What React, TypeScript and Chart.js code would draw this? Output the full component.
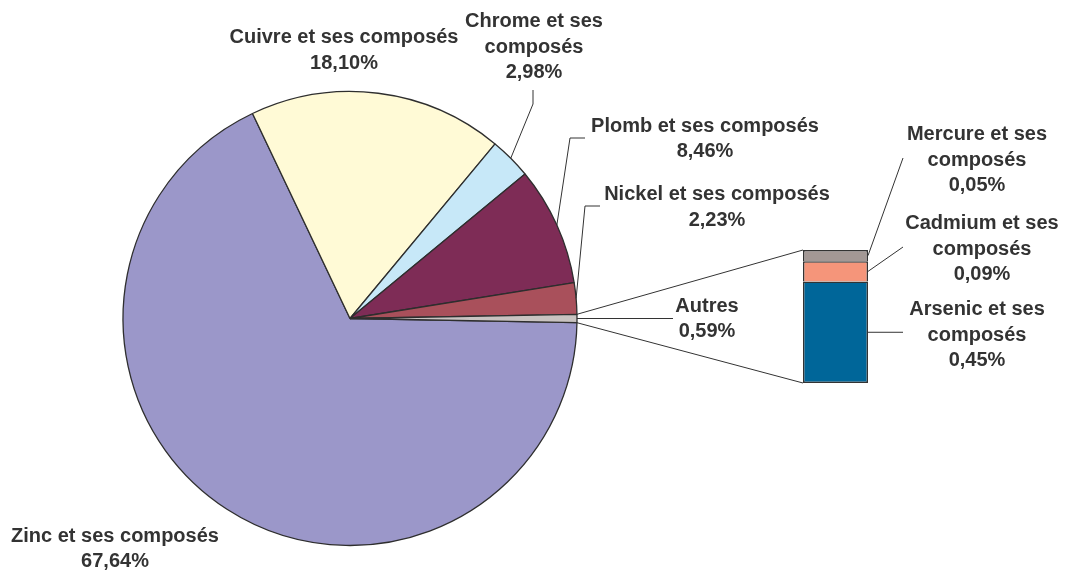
import React, { useEffect, useRef } from "react";
import { Chart, registerables } from "chart.js";

Chart.register(...registerables);

// ---- Data ----
const pieNames = [
  "Zinc et ses composés",
  "Cuivre et ses composés",
  "Chrome et ses composés",
  "Plomb et ses composés",
  "Nickel et ses composés",
  "Autres",
];
const pieValues = [67.64, 18.1, 2.98, 8.46, 2.23, 0.59];
const pieColors = ["#9B97C9", "#FFFAD6", "#C7E8F8", "#7E2C56", "#A9505B", "#C9C3C1"];

const barNames = ["Arsenic et ses composés", "Cadmium et ses composés", "Mercure et ses composés"];
const barValues = [0.45, 0.09, 0.05];
const barColors = ["#006699", "#F5957A", "#A39895"];

// wrapped label lines (text only)
const pieLabelLines = [
  ["Zinc et ses composés"],
  ["Cuivre et ses composés"],
  ["Chrome et ses", "composés"],
  ["Plomb et ses composés"],
  ["Nickel et ses composés"],
  ["Autres"],
];
const barLabelLines = [
  ["Arsenic et ses", "composés"],
  ["Cadmium et ses", "composés"],
  ["Mercure et ses", "composés"],
];

// ---- Layout (positions only) ----
const W = 1072;
const H = 571;
const BAR_LEFT = 780;
const BAR_TOP = 230;
const BAR_W = 120;
const BAR_H = 170;
const LINE_H = 25.5;
// label center x, first baseline y
const piePos = [
  { x: 115, y: 541.5 },
  { x: 344, y: 43 },
  { x: 534, y: 27 },
  { x: 705, y: 131.5 },
  { x: 717, y: 200 },
  { x: 707, y: 311.5 },
];
// leader polylines after the slice anchor (null = none)
const pieLeaders: (number[][] | null)[] = [
  null,
  null,
  [[533, 104], [533, 90]],
  [[570, 138], [585, 138]],
  [[585, 206], [600, 206]],
  [[673, -1]],
];
const barPos = [
  { x: 977, y: 315 },
  { x: 982, y: 229 },
  { x: 977, y: 140 },
];
const barLeaderEnds = [
  [903, -1],
  [903, 247],
  [903, 158],
];

const fmt = (v: number) => v.toFixed(2).replace(".", ",") + "%";
const FONT = 'bold 20px "Liberation Sans", Arial, sans-serif';
const TEXT = "#333333";

export default function App() {
  const pieRef = useRef<HTMLCanvasElement>(null);
  const barRef = useRef<HTMLCanvasElement>(null);

  useEffect(() => {
    document.body.style.margin = "0";
    const barChart = new Chart(barRef.current!, {
      type: "bar",
      data: {
        labels: ["Autres"],
        datasets: barValues.map((v, i) => ({
          label: barNames[i],
          data: [v],
          backgroundColor: barColors[i],
          borderColor: "#333333",
          borderWidth: { top: 1.5, left: 1.5, right: 1.5, bottom: i === 0 ? 1.5 : 0 },
          borderSkipped: false,
          barPercentage: 1,
          categoryPercentage: 1,
          inflateAmount: 0,
        })),
      },
      options: {
        animation: false,
        responsive: false,
        devicePixelRatio: 1,
        layout: { padding: { left: 23, right: 32, top: 20, bottom: 17 } },
        scales: {
          x: { stacked: true, display: false },
          y: { stacked: true, display: false, min: 0, max: barValues.reduce((a, b) => a + b, 0) },
        },
        plugins: { legend: { display: false }, tooltip: { enabled: false } },
      },
    });

    const total = pieValues.reduce((a, b) => a + b, 0);
    const rotation = 90 + (pieValues[pieValues.length - 1] / total) * 180;

    const labelPlugin = {
      id: "labels",
      afterDraw(chart: any) {
        const ctx = chart.ctx as CanvasRenderingContext2D;
        const meta = chart.getDatasetMeta(0);
        ctx.save();
        ctx.strokeStyle = "#333333";
        ctx.lineWidth = 1;
        // pie leaders
        meta.data.forEach((arc: any, i: number) => {
          const pts = pieLeaders[i];
          if (!pts) return;
          const mid = (arc.startAngle + arc.endAngle) / 2;
          const ax = arc.x + arc.outerRadius * Math.cos(mid);
          const ay = arc.y + arc.outerRadius * Math.sin(mid);
          ctx.beginPath();
          ctx.moveTo(ax, ay);
          pts.forEach((p) => ctx.lineTo(p[0], p[1] < 0 ? ay : p[1]));
          ctx.stroke();
        });
        // connectors from "Autres" slice to bar
        const other: any = meta.data[meta.data.length - 1];
        const topEl: any = barChart.getDatasetMeta(barValues.length - 1).data[0];
        const botEl: any = barChart.getDatasetMeta(0).data[0];
        const left = BAR_LEFT + topEl.x - topEl.width / 2;
        const sx = other.x + other.outerRadius * Math.cos(other.startAngle);
        const sy = other.y + other.outerRadius * Math.sin(other.startAngle);
        const ex = other.x + other.outerRadius * Math.cos(other.endAngle);
        const ey = other.y + other.outerRadius * Math.sin(other.endAngle);
        ctx.beginPath();
        ctx.moveTo(sx, sy);
        ctx.lineTo(left, BAR_TOP + topEl.y);
        ctx.moveTo(ex, ey);
        ctx.lineTo(left, BAR_TOP + botEl.base);
        ctx.stroke();
        // bar leaders
        barValues.forEach((_, i) => {
          const el: any = barChart.getDatasetMeta(i).data[0];
          const rx = BAR_LEFT + el.x + el.width / 2;
          const my = BAR_TOP + (el.y + el.base) / 2;
          const e = barLeaderEnds[i];
          ctx.beginPath();
          ctx.moveTo(rx, my);
          ctx.lineTo(e[0], e[1] < 0 ? my : e[1]);
          ctx.stroke();
        });
        // texts
        ctx.font = FONT;
        ctx.fillStyle = TEXT;
        ctx.textAlign = "center";
        ctx.textBaseline = "alphabetic";
        pieValues.forEach((v, i) => {
          const lines = [...pieLabelLines[i], fmt(v)];
          lines.forEach((t, k) => ctx.fillText(t, piePos[i].x, piePos[i].y + k * LINE_H));
        });
        barValues.forEach((v, i) => {
          const lines = [...barLabelLines[i], fmt(v)];
          lines.forEach((t, k) => ctx.fillText(t, barPos[i].x, barPos[i].y + k * LINE_H));
        });
        ctx.restore();
      },
    };

    const pieChart = new Chart(pieRef.current!, {
      type: "pie",
      data: {
        labels: pieNames,
        datasets: [
          {
            data: pieValues,
            backgroundColor: pieColors,
            borderColor: "#2E2E2E",
            borderWidth: 1.3,
          },
        ],
      },
      options: {
        animation: false,
        responsive: false,
        devicePixelRatio: 1,
        rotation,
        radius: 227,
        layout: { padding: { left: 123, right: 495, top: 91.5, bottom: 25.5 } },
        plugins: { legend: { display: false }, tooltip: { enabled: false } },
      },
      plugins: [labelPlugin],
    });

    return () => {
      pieChart.destroy();
      barChart.destroy();
    };
  }, []);

  return (
    <div style={{ position: "fixed", left: 0, top: 0, width: W, height: H, background: "#ffffff" }}>
      <canvas ref={pieRef} width={W} height={H} style={{ position: "absolute", left: 0, top: 0 }} />
      <canvas
        ref={barRef}
        width={BAR_W}
        height={BAR_H}
        style={{ position: "absolute", left: BAR_LEFT, top: BAR_TOP }}
      />
    </div>
  );
}
